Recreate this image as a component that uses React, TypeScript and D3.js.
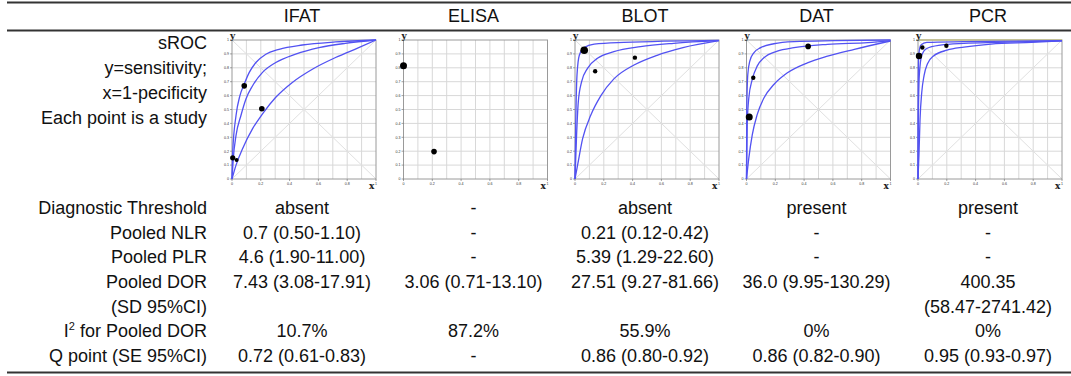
import React from "react";
import * as d3 from "d3";

// table text
const tests = ["IFAT", "ELISA", "BLOT", "DAT", "PCR"];
const srocLabel = ["sROC", "y=sensitivity;", "x=1-pecificity", "Each point is a study"];
const rowLabels = [
  "Diagnostic Threshold",
  "Pooled NLR",
  "Pooled PLR",
  "Pooled DOR",
  "(SD 95%CI)",
  "I2 for Pooled DOR",
  "Q point (SE 95%CI)",
];
const threshold = ["absent", "-", "absent", "present", "present"];
const pooledNLR = ["0.7 (0.50-1.10)", "-", "0.21 (0.12-0.42)", "-", "-"];
const pooledPLR = ["4.6 (1.90-11.00)", "-", "5.39 (1.29-22.60)", "-", "-"];
const pooledDOR = ["7.43 (3.08-17.91)", "3.06 (0.71-13.10)", "27.51 (9.27-81.66)", "36.0 (9.95-130.29)", "400.35"];
const pooledDORci = ["", "", "", "", "(58.47-2741.42)"];
const i2DOR = ["10.7%", "87.2%", "55.9%", "0%", "0%"];
const qPoint = ["0.72 (0.61-0.83)", "-", "0.86 (0.80-0.92)", "0.86 (0.82-0.90)", "0.95 (0.93-0.97)"];

// sROC curves: [1-specificity, sensitivity]
const ifatLower = [[0, 0], [0.028, 0.1], [0.074, 0.219], [0.143, 0.362], [0.212, 0.469], [0.304, 0.588], [0.419, 0.695], [0.558, 0.79], [0.719, 0.874], [0.88, 0.945], [1, 1]];
const ifatMid = [[0, 0], [0.009, 0.148], [0.028, 0.314], [0.062, 0.457], [0.097, 0.576], [0.143, 0.671], [0.212, 0.767], [0.304, 0.838], [0.442, 0.898], [0.604, 0.945], [0.788, 0.976], [1, 1]];
const ifatUpper = [[0, 0], [0.005, 0.195], [0.028, 0.457], [0.055, 0.6], [0.085, 0.683], [0.12, 0.767], [0.166, 0.838], [0.235, 0.898], [0.327, 0.933], [0.488, 0.964], [0.719, 0.986], [1, 1]];
const ifatStudies = [[0.085, 0.67, 2.8], [0.207, 0.505, 2.8], [0.005, 0.152, 2.6], [0.032, 0.136, 2]];

const elisaStudies = [[0, 0.815, 3.5], [0.212, 0.197, 2.8]];

const blotLower = [[0, 0], [0.018, 0.1], [0.053, 0.29], [0.11, 0.46], [0.18, 0.6], [0.27, 0.72], [0.41, 0.82], [0.57, 0.89], [0.75, 0.945], [1, 0.995]];
const blotMid = [[0, 0], [0.011, 0.317], [0.023, 0.556], [0.046, 0.7], [0.087, 0.796], [0.156, 0.868], [0.27, 0.916], [0.455, 0.952], [0.685, 0.976], [1, 0.995]];
const blotUpper = [[0, 0], [0.005, 0.39], [0.014, 0.75], [0.03, 0.89], [0.064, 0.945], [0.133, 0.97], [0.34, 0.983], [1, 0.998]];
const blotStudies = [[0.064, 0.926, 3.8], [0.14, 0.775, 2.2], [0.416, 0.873, 2.2]];

const datLower = [[0, 0], [0.016, 0.15], [0.04, 0.318], [0.074, 0.463], [0.121, 0.583], [0.19, 0.68], [0.284, 0.764], [0.423, 0.836], [0.563, 0.884], [0.749, 0.933], [1, 0.993]];
const datMid = [[0, 0], [0.005, 0.39], [0.016, 0.583], [0.04, 0.716], [0.074, 0.812], [0.121, 0.872], [0.214, 0.92], [0.33, 0.945], [0.563, 0.969], [0.842, 0.981], [1, 0.993]];
const datUpper = [[0, 0], [0.002, 0.51], [0.009, 0.752], [0.023, 0.848], [0.051, 0.908], [0.098, 0.945], [0.19, 0.973], [0.33, 0.988], [0.61, 0.995], [1, 1]];
const datStudies = [[0.019, 0.446, 3.5], [0.047, 0.728, 2.2], [0.428, 0.954, 2.8]];

const pcrLower = [[0, 0], [0.007, 0.183], [0.014, 0.427], [0.026, 0.622], [0.042, 0.744], [0.066, 0.829], [0.108, 0.885], [0.202, 0.927], [0.319, 0.949], [0.507, 0.971], [0.789, 0.983], [1, 0.993]];
const pcrMid = [[0, 0], [0.002, 0.378], [0.009, 0.744], [0.026, 0.89], [0.061, 0.939], [0.155, 0.963], [0.319, 0.976], [0.554, 0.983], [1, 0.993]];
const pcrUpper = [[0, 0], [0.001, 0.622], [0.005, 0.89], [0.019, 0.963], [0.061, 0.983], [0.319, 0.988], [1, 0.995]];
const pcrStudies = [[0.007, 0.885, 3.2], [0.03, 0.946, 2.2], [0.197, 0.959, 2.2]];

const curvesByTest = [
  [ifatLower, ifatMid, ifatUpper],
  [],
  [blotLower, blotMid, blotUpper],
  [datLower, datMid, datUpper],
  [pcrLower, pcrMid, pcrUpper],
];
const studiesByTest = [ifatStudies, elisaStudies, blotStudies, datStudies, pcrStudies];

const W = 1071;
const H = 376;
const font = "'Liberation Sans', Arial, sans-serif";
const labelRight = 207;
const plotW = 144;
const plotTop = 40;
const plotBottom = 179;

const col = d3.scalePoint<string>().domain(tests).range([302, 988]);
const rowY = d3.scaleLinear().domain([0, 6]).range([214, 362]);

function SrocPlot({ i }: { i: number }) {
  const left = col(tests[i])! - 70;
  const x = d3.scaleLinear().domain([0, 1]).range([left, left + plotW]);
  const y = d3.scaleLinear().domain([0, 1]).range([plotBottom, plotTop]);
  const line = d3
    .line<number[]>()
    .x((d) => x(d[0]))
    .y((d) => y(d[1]))
    .curve(d3.curveMonotoneX);
  const grid = d3.range(1, 10).map((v) => v / 10);
  const hasCurves = curvesByTest[i].length > 0;
  return (
    <g>
      <rect x={x(0)} y={y(1)} width={x(1) - x(0)} height={y(0) - y(1)} fill="#fff" />
      {grid.map((v) => (
        <g key={v}>
          <line x1={x(v)} x2={x(v)} y1={y(0)} y2={y(1)} stroke="#d8d8d8" strokeWidth={1} />
          <line x1={x(0)} x2={x(1)} y1={y(v)} y2={y(v)} stroke="#d8d8d8" strokeWidth={1} />
        </g>
      ))}
      {hasCurves && (
        <>
          <line x1={x(0)} y1={y(0)} x2={x(1)} y2={y(1)} stroke="#e0e0e0" />
          <line x1={x(0)} y1={y(1)} x2={x(1)} y2={y(0)} stroke="#e0e0e0" />
        </>
      )}
      {i === 4 && <line x1={x(0)} x2={x(1)} y1={y(1)} y2={y(1)} stroke="#e8e070" strokeWidth={1.5} />}
      <rect x={x(0)} y={y(1)} width={x(1) - x(0)} height={y(0) - y(1)} fill="none" stroke="#9a9a9a" strokeWidth={1} />
      {y.ticks(10).map((t) => (
        <g key={"y" + t}>
          <line x1={x(0) - 2} x2={x(0)} y1={y(t)} y2={y(t)} stroke="#666" strokeWidth={0.6} />
          <text x={x(0) - 3} y={y(t) + 1.3} fontSize={3.6} textAnchor="end" fill="#333" fontFamily={font}>
            {d3.format("~g")(t)}
          </text>
        </g>
      ))}
      {x.ticks(5).map((t) => (
        <g key={"x" + t}>
          <line x1={x(t)} x2={x(t)} y1={y(0)} y2={y(0) + 2} stroke="#666" strokeWidth={0.6} />
          <text x={x(t)} y={y(0) + 6} fontSize={3.6} textAnchor="middle" fill="#333" fontFamily={font}>
            {d3.format("~g")(t)}
          </text>
        </g>
      ))}
      <text x={x(0) - 2} y={y(1) - 1} fontSize={9} fontWeight="bold" fill="#222" fontFamily="'DejaVu Serif', serif">
        y
      </text>
      <text x={x(1) - 7} y={y(0) + 10} fontSize={9} fontWeight="bold" fill="#222" fontFamily="'DejaVu Serif', serif">
        x
      </text>
      {curvesByTest[i].map((c, k) => (
        <path key={k} d={line(c) || ""} fill="none" stroke="#5252f2" strokeWidth={1.3} />
      ))}
      {studiesByTest[i].map((p, k) => (
        <circle key={k} cx={x(p[0])} cy={y(p[1])} r={p[2]} fill="#000" />
      ))}
    </g>
  );
}

export default function App() {
  const rows = [threshold, pooledNLR, pooledPLR, pooledDOR, pooledDORci, i2DOR, qPoint];
  return (
    <svg width={W} height={H} style={{ position: "absolute", left: 0, top: 0, background: "#fff" }}>
      <rect width={W} height={H} fill="#fff" />
      <line x1={7} x2={W} y1={2.5} y2={2.5} stroke="#333" strokeWidth={2} />
      <line x1={7} x2={W} y1={30.5} y2={30.5} stroke="#333" strokeWidth={2} />
      <line x1={7} x2={W} y1={372.5} y2={372.5} stroke="#333" strokeWidth={2} />
      {tests.map((t) => (
        <text key={t} x={col(t)} y={22} fontSize={18} textAnchor="middle" fill="#111" fontFamily={font}>
          {t}
        </text>
      ))}
      {srocLabel.map((s, k) => (
        <text key={s} x={labelRight} y={49 + k * 25} fontSize={18} textAnchor="end" fill="#111" fontFamily={font}>
          {s}
        </text>
      ))}
      {tests.map((t, i) => (
        <SrocPlot key={t} i={i} />
      ))}
      {rowLabels.map((s, r) => (
        <text key={s} x={labelRight} y={rowY(r)} fontSize={18} textAnchor="end" fill="#111" fontFamily={font}>
          {s.startsWith("I2") ? (
            <>
              I<tspan fontSize={11} dy={-7}>2</tspan>
              <tspan dy={7}>{s.slice(2)}</tspan>
            </>
          ) : (
            s
          )}
        </text>
      ))}
      {rows.map((vals, r) =>
        vals.map((v, i) => (
          <text key={r + "-" + i} x={col(tests[i])} y={rowY(r)} fontSize={18} textAnchor="middle" fill="#111" fontFamily={font}>
            {v}
          </text>
        ))
      )}
    </svg>
  );
}
